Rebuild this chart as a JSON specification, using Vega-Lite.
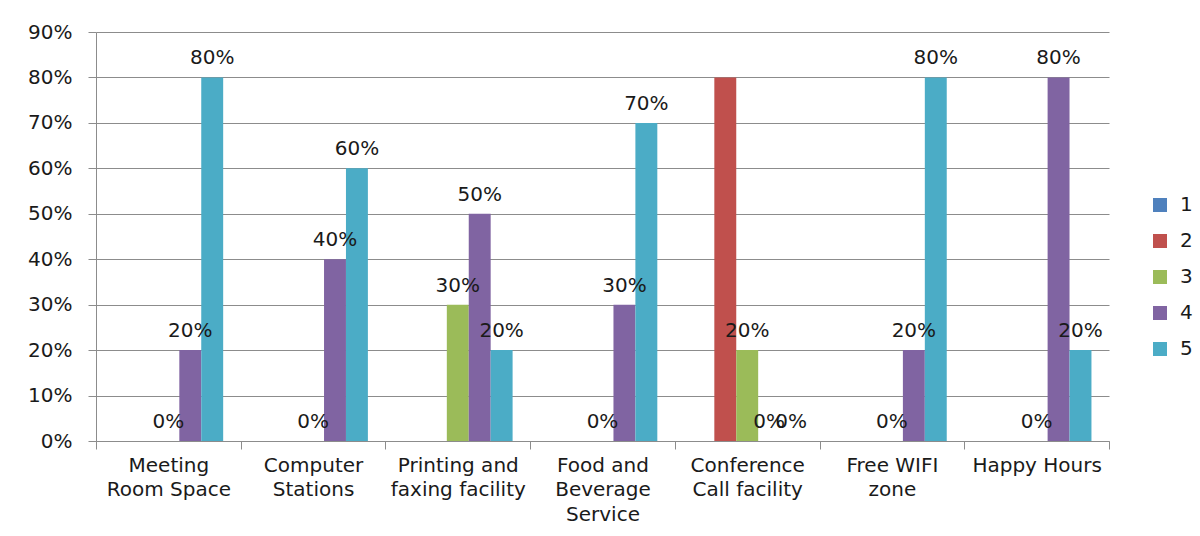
{
  "$schema": "https://vega.github.io/schema/vega-lite/v6.json",
  "width": 1013,
  "height": 409,
  "autosize": {"type": "none"},
  "padding": {"left": 96, "top": 32, "right": 91, "bottom": 95},
  "background": "white",
  "config": {"view": {"stroke": null}, "font": "DejaVu Sans"},
  "data": {
    "values": [
      {"facility": "Meeting Room Space", "series": "3", "value": 0},
      {"facility": "Meeting Room Space", "series": "4", "value": 0.2},
      {"facility": "Meeting Room Space", "series": "5", "value": 0.8},
      {"facility": "Computer Stations", "series": "3", "value": 0},
      {"facility": "Computer Stations", "series": "4", "value": 0.4},
      {"facility": "Computer Stations", "series": "5", "value": 0.6},
      {"facility": "Printing and faxing facility", "series": "3", "value": 0.3},
      {"facility": "Printing and faxing facility", "series": "4", "value": 0.5},
      {"facility": "Printing and faxing facility", "series": "5", "value": 0.2},
      {"facility": "Food and Beverage Service", "series": "3", "value": 0},
      {"facility": "Food and Beverage Service", "series": "4", "value": 0.3},
      {"facility": "Food and Beverage Service", "series": "5", "value": 0.7},
      {"facility": "Conference Call facility", "series": "2", "value": 0.8},
      {"facility": "Conference Call facility", "series": "3", "value": 0.2},
      {"facility": "Conference Call facility", "series": "4", "value": 0},
      {"facility": "Conference Call facility", "series": "5", "value": 0},
      {"facility": "Free WIFI zone", "series": "3", "value": 0},
      {"facility": "Free WIFI zone", "series": "4", "value": 0.2},
      {"facility": "Free WIFI zone", "series": "5", "value": 0.8},
      {"facility": "Happy Hours", "series": "3", "value": 0},
      {"facility": "Happy Hours", "series": "4", "value": 0.8},
      {"facility": "Happy Hours", "series": "5", "value": 0.2}
    ]
  },
  "encoding": {
    "x": {
      "field": "facility",
      "type": "nominal",
      "sort": ["Meeting Room Space", "Computer Stations", "Printing and faxing facility", "Food and Beverage Service", "Conference Call facility", "Free WIFI zone", "Happy Hours"],
      "scale": {"paddingInner": 0, "paddingOuter": 0},
      "axis": {
        "title": null,
        "labelAngle": 0,
        "tickBand": "extent",
        "tickSize": 8,
        "domainColor": "#8c8c8c",
        "tickColor": "#8c8c8c",
        "labelFontSize": 20,
        "labelColor": "#1a1a1a",
        "labelPadding": 6,
        "labelLineHeight": 24.5,
        "grid": false,
        "labelExpr": "datum.value == 'Meeting Room Space' ? ['Meeting', 'Room Space'] : datum.value == 'Computer Stations' ? ['Computer', 'Stations'] : datum.value == 'Printing and faxing facility' ? ['Printing and', 'faxing facility'] : datum.value == 'Food and Beverage Service' ? ['Food and', 'Beverage', 'Service'] : datum.value == 'Conference Call facility' ? ['Conference', 'Call facility'] : datum.value == 'Free WIFI zone' ? ['Free WIFI', 'zone'] : datum.value"
      }
    },
    "xOffset": {
      "field": "series",
      "type": "nominal",
      "scale": {"domain": ["1", "2", "3", "4", "5"], "paddingInner": 0, "paddingOuter": 0.8}
    },
    "y": {
      "field": "value",
      "type": "quantitative",
      "scale": {"domain": [0, 0.9]},
      "axis": {
        "title": null,
        "values": [0, 0.1, 0.2, 0.3, 0.4, 0.5, 0.6, 0.7, 0.8, 0.9],
        "format": ".0%",
        "grid": true,
        "gridColor": "#8c8c8c",
        "domainColor": "#8c8c8c",
        "tickColor": "#8c8c8c",
        "tickSize": 8,
        "labelPadding": 16,
        "labelFontSize": 20,
        "labelColor": "#1a1a1a"
      }
    }
  },
  "layer": [
    {
      "mark": {"type": "bar"},
      "encoding": {
        "color": {
          "field": "series",
          "type": "nominal",
          "scale": {"domain": ["1", "2", "3", "4", "5"], "range": ["#4F81BD", "#C0504D", "#9BBB59", "#8064A2", "#4BACC6"]},
          "legend": {
            "title": null,
            "orient": "none",
            "legendX": 1054,
            "legendY": 163,
            "symbolType": "square",
            "symbolSize": 196,
            "symbolStrokeWidth": 0,
            "labelFontSize": 20,
            "labelColor": "#1a1a1a",
            "labelOffset": 10,
            "rowPadding": 16
          }
        }
      }
    },
    {
      "transform": [{"filter": "datum.series != '2'"}],
      "mark": {"type": "text", "baseline": "alphabetic", "dy": -13, "fontSize": 20, "color": "#1a1a1a"},
      "encoding": {"text": {"field": "value", "type": "quantitative", "format": ".0%"}}
    }
  ]
}
